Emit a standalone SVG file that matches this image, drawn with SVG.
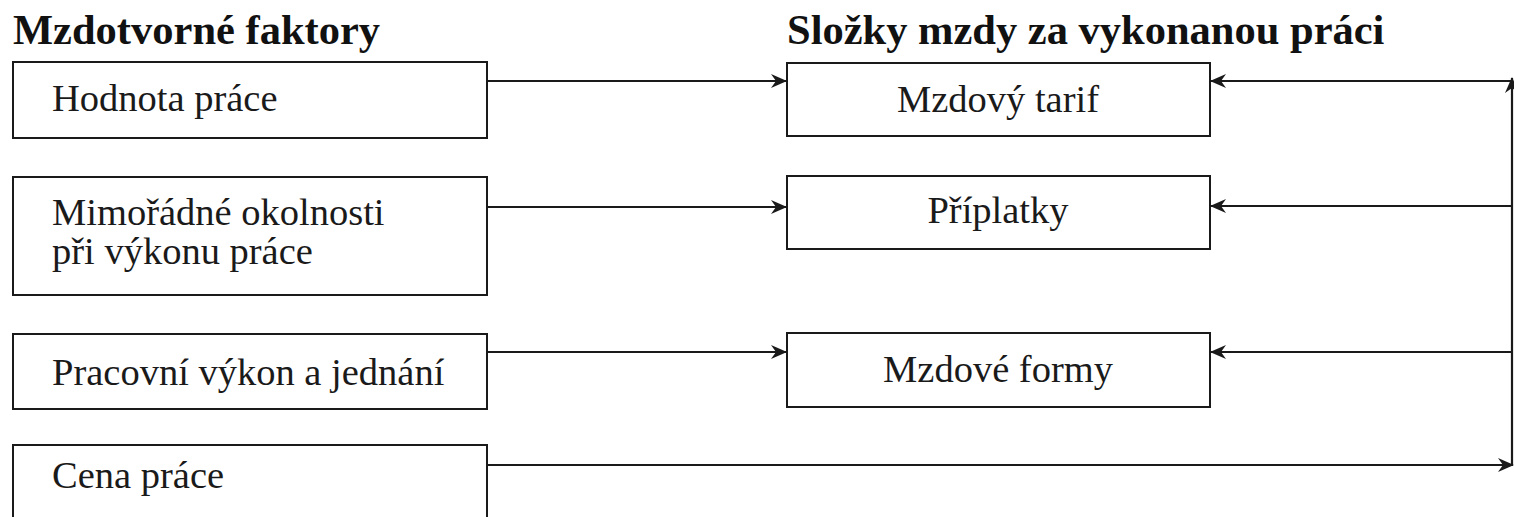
<svg xmlns="http://www.w3.org/2000/svg" width="1514" height="517" viewBox="0 0 1514 517">
<style>
.box{fill:#fff;stroke:#1a1a1a;stroke-width:2}
.t{font-family:'Liberation Serif','DejaVu Serif',serif;font-size:38.5px;fill:#1a1a1a}
.h{font-family:'Liberation Serif','DejaVu Serif',serif;font-size:42.5px;font-weight:bold;fill:#111}
.c{fill:none;stroke:#1a1a1a;stroke-width:2.2}
</style>
<defs>
<marker id="ah" viewBox="0 0 16 14" refX="15" refY="7" markerWidth="16" markerHeight="14" markerUnits="userSpaceOnUse" orient="auto">
<path d="M0,0 L16,7 L0,14 L5,7 Z" fill="#1a1a1a"/>
</marker>
</defs>
<rect width="1514" height="517" fill="#fff"/>
<text class="h" x="13" y="44">Mzdotvorné faktory</text>
<text class="h" x="787" y="44">Složky mzdy za vykonanou práci</text>
<g id="n1"><rect class="box" x="13" y="62" width="474" height="76"/><text class="t" x="52" y="111">Hodnota práce</text></g>
<g id="n2"><rect class="box" x="13" y="177" width="474" height="118"/><text class="t" x="52" y="225">Mimořádné okolnosti</text><text class="t" x="52" y="264">při výkonu práce</text></g>
<g id="n3"><rect class="box" x="13" y="334" width="474" height="75"/><text class="t" x="52" y="385">Pracovní výkon a jednání</text></g>
<g id="n4"><rect class="box" x="13" y="445" width="474" height="90"/><text class="t" x="52" y="488">Cena práce</text></g>
<g id="r1"><rect class="box" x="787" y="63" width="423" height="73"/><text class="t" x="998" y="112" text-anchor="middle">Mzdový tarif</text></g>
<g id="r2"><rect class="box" x="787" y="176" width="423" height="73"/><text class="t" x="998" y="223" text-anchor="middle">Příplatky</text></g>
<g id="r3"><rect class="box" x="787" y="333" width="423" height="74"/><text class="t" x="998" y="382" text-anchor="middle">Mzdové formy</text></g>
<g id="connectors">
<path class="c" d="M487,81 H786" marker-end="url(#ah)"/>
<path class="c" d="M487,207 H786" marker-end="url(#ah)"/>
<path class="c" d="M487,352 H786" marker-end="url(#ah)"/>
<path class="c" d="M487,465 H1513" marker-end="url(#ah)"/>
<path class="c" d="M1512,465 V78" marker-end="url(#ah)"/>
<path class="c" d="M1513,81 H1211" marker-end="url(#ah)"/>
<path class="c" d="M1513,206 H1211" marker-end="url(#ah)"/>
<path class="c" d="M1513,352 H1211" marker-end="url(#ah)"/>
</g>
</svg>
